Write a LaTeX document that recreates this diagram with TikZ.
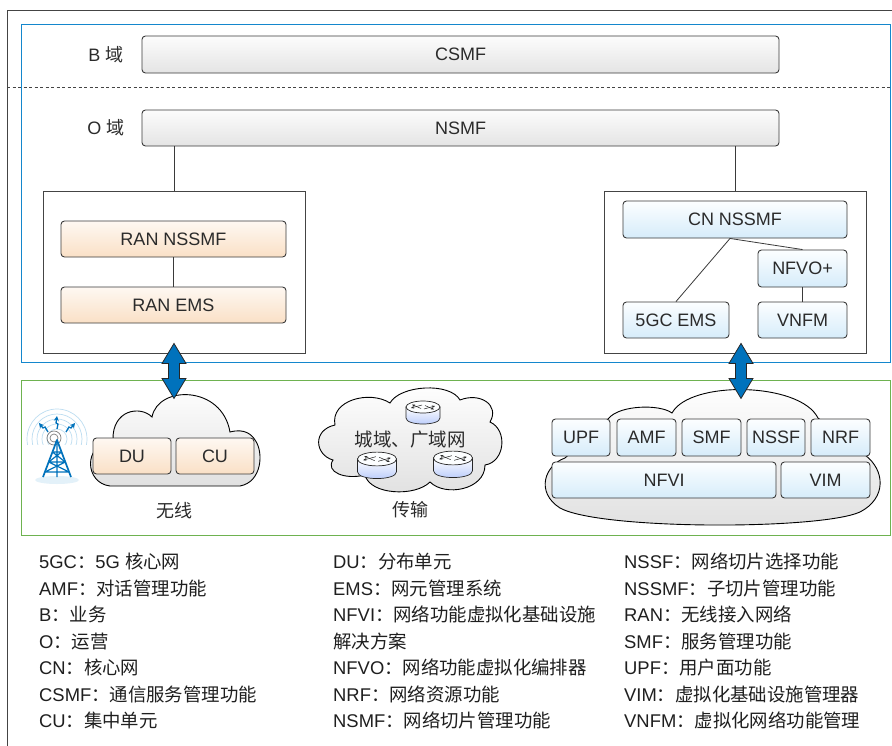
\documentclass[tikz,border=0pt]{standalone}
\usepackage{fontspec}
\setmainfont{Liberation Sans}
\newfontfamily\zhfont{Noto Sans CJK SC}
\newcommand{\zh}[1]{{\zhfont #1}}
\usetikzlibrary{arrows.meta,calc}
\definecolor{frameC}{HTML}{444444}
\definecolor{blueC}{RGB}{20,135,205}
\definecolor{greenC}{RGB}{110,178,80}
\definecolor{txtC}{HTML}{2B2B2B}
\definecolor{lineC}{HTML}{3A3A3A}
\definecolor{arrowC}{RGB}{0,114,188}
\definecolor{orTop}{RGB}{254,248,242}
\definecolor{orBot}{RGB}{250,224,198}
\definecolor{blTop}{RGB}{252,254,255}
\definecolor{blBot}{RGB}{214,236,250}
\definecolor{grTop}{RGB}{252,252,252}
\definecolor{grBot}{RGB}{228,228,228}
\tikzset{
 towerpic/.pic={
  \fill[blueC!12] (0,40) ellipse [x radius=22, y radius=4];
  \begin{scope}
   \clip (-35,-35) rectangle (35,4);
   \foreach \r in {10,15,20,25,30}
     \draw[blueC!28, line width=0.7pt] (0,-1) circle [radius=\r];
  \end{scope}
  \draw[gray, line width=0.7pt] (-3,-2) circle [radius=4] (-3,-2) circle [radius=7];
  \draw[arrowC, line width=1.7pt, line join=round] (-14,37) -- (0,0) -- (14,37);
  \draw[arrowC, line width=1.2pt] (0,0) -- (0,37)
    (-4.5,12) -- (4.5,12) (-8.3,22) -- (8.3,22) (-12.1,32) -- (12.1,32)
    (-4.5,12) -- (8.3,22) (4.5,12) -- (-8.3,22)
    (-8.3,22) -- (12.1,32) (8.3,22) -- (-12.1,32);
  \draw[arrowC, line width=1.3pt, -{Stealth[length=5pt,width=5pt]}]
    (0,-11) -- (1,-16) -- (-1,-17) -- (0,-24);
  \draw[arrowC, line width=1.3pt, -{Stealth[length=5pt,width=5pt]}]
    (-9,-8) -- (-12,-13) -- (-14,-12) -- (-18,-17);
  \draw[arrowC, line width=1.3pt, -{Stealth[length=5pt,width=5pt]}]
    (9,-8) -- (12,-13) -- (14,-12) -- (18,-17);
 },
 routerpic/.pic={
  \path[top color=white, bottom color=blBot!85!blue, draw=black!85, line width=0.7pt]
    (-17,0) -- (-17,11) .. controls (-17,19) and (17,19) .. (17,11) -- (17,0) -- cycle;
  \draw[black!85, line width=0.7pt, fill=blTop] (0,0) ellipse [x radius=17, y radius=6];
  \draw[black!85, line width=0.5pt, -{Stealth[length=3pt,width=2.5pt]}] (-1,-2) -- (-12,1);
  \draw[black!85, line width=0.5pt, -{Stealth[length=3pt,width=2.5pt]}] (1,2) -- (12,-1);
  \draw[black!85, line width=0.5pt, -{Stealth[length=3pt,width=2.5pt]}] (-2,1.5) -- (-11,-2.5);
  \draw[black!85, line width=0.5pt, -{Stealth[length=3pt,width=2.5pt]}] (2,-1.5) -- (11,2.5);
 },
 dblarrow/.pic={
  \filldraw[fill=arrowC, draw=black!85, line width=0.8pt, line join=miter]
   (0,0) -- (12,20) -- (5.5,20) -- (5.5,35) -- (12,35) -- (0,55) -- (-12,35)
   -- (-5.5,35) -- (-5.5,20) -- (-12,20) -- cycle;
 }
}
\begin{document}
\begin{tikzpicture}[x=1pt,y=-1pt,
 every node/.style={text=txtC},
 boxbase/.style={draw=lineC, line width=0.9pt, rounded corners=3.5pt, inner sep=0pt, font=\fontsize{18}{20}\selectfont},
 greybox/.style={boxbase, top color=grTop, bottom color=grBot},
 orbox/.style={boxbase, top color=orTop, bottom color=orBot},
 blbox/.style={boxbase, top color=blTop, bottom color=blBot},
 holder/.style={draw=frameC, line width=0.9pt, fill=white, inner sep=0pt},
 conn/.style={draw=lineC, line width=0.8pt},
 cloudC/.style={draw=black, line width=0.9pt, top color=white, bottom color=black!12},
 legend/.style={anchor=west, font=\fontsize{18.4}{20}\selectfont, inner sep=0pt, text height=13pt, text depth=4pt, text=black!88},
 lbl/.style={font=\fontsize{18}{20}\selectfont, inner sep=0pt},
]
\useasboundingbox (0,0) rectangle (892,745);
\clip (0,0) rectangle (892,745);
\fill[white] (0,0) rectangle (892,745);

% frames
\draw[frameC, line width=1pt] (7,10) rectangle (905,760);
\draw[blueC, line width=1pt] (21,24) rectangle (890,362);
\draw[greenC, line width=1pt] (21,380) rectangle (890,535);
\draw[frameC, line width=0.8pt, dash pattern=on 3pt off 2.5pt] (7,87) -- (892,87);

% domain labels and top boxes
\node[lbl] (bdom) at (106,55) {B \zh{域}};
\node[lbl] (odom) at (106,128) {O \zh{域}};
\node[greybox, minimum width=637pt, minimum height=37pt] (csmf) at (460.5,54.5) {CSMF};
\node[greybox, minimum width=637pt, minimum height=36pt] (nsmf) at (460.5,128) {NSMF};

% containers
\node[holder, minimum width=262pt, minimum height=162pt] (rancont) at (174,272) {};
\node[holder, minimum width=262pt, minimum height=162pt] (cncont) at (735,272) {};
\draw[conn] (rancont.north) -- (rancont.north |- nsmf.south);
\draw[conn] (cncont.north) -- (cncont.north |- nsmf.south);

% RAN side
\node[orbox, minimum width=225pt, minimum height=36pt] (ransm) at (173.5,239) {RAN NSSMF};
\node[orbox, minimum width=225pt, minimum height=36pt] (ranems) at (173.5,305) {RAN EMS};
\draw[conn] (ransm) -- (ranems);

% CN side
\node[blbox, minimum width=224pt, minimum height=37pt] (cnnssmf) at (735,219.5) {CN NSSMF};
\node[blbox, minimum width=89pt, minimum height=37pt] (nfvo) at (802.5,268.5) {NFVO+};
\node[blbox, minimum width=106pt, minimum height=36pt] (gcems) at (676,320) {5GC EMS};
\node[blbox, minimum width=89pt, minimum height=36pt] (vnfm) at (802.5,320) {VNFM};
\coordinate (cnjoin) at ($(cnnssmf.south)+(-5,0)$);
\draw[conn] (cnjoin) -- (gcems.north);
\draw[conn] (cnjoin) -- (nfvo.north);
\draw[conn] (nfvo) -- (vnfm);

% wireless cloud
\path[cloudC] (113,440) .. controls (112,410) and (140,405) .. (152,417)
  .. controls (158,385) and (222,385) .. (230,432)
  .. controls (245,428) and (252,435) .. (255,440)
  .. controls (264,452) and (262,482) .. (240,486) -- (110,486)
  .. controls (85,483) and (82,445) .. (113,440) -- cycle;
\node[orbox, minimum width=78pt, minimum height=36pt] (du) at (132,456) {DU};
\node[orbox, minimum width=78pt, minimum height=36pt] (cu) at (215,456) {CU};
\node[lbl] (wx) at (174,511) {\zh{无线}};
\pic at (57,440) {towerpic};

% transport cloud
\path[cloudC] (333,460) .. controls (315,455) and (312,430) .. (335,425)
  .. controls (330,400) and (370,390) .. (390,403)
  .. controls (400,385) and (450,382) .. (460,400)
  .. controls (480,392) and (500,405) .. (490,422)
  .. controls (508,430) and (505,462) .. (485,465)
  .. controls (485,490) and (445,497) .. (430,482)
  .. controls (415,497) and (370,495) .. (365,475)
  .. controls (345,480) and (325,472) .. (333,460) -- cycle;
\pic at (423,407) {routerpic};
\pic[scale=1.15] at (377,459) {routerpic};
\pic[scale=1.15] at (453,458) {routerpic};
\node[font=\fontsize{18.5}{20}\selectfont, inner sep=0pt] (metro) at (410,440) {\zh{城域、广域网}};
\node[lbl] (trans) at (410,510) {\zh{传输}};

% core cloud
\path[cloudC] (565,458) .. controls (545,465) and (535,492) .. (560,508)
  .. controls (600,530) and (820,530) .. (860,512)
  .. controls (887,498) and (885,470) .. (865,455) -- (818,418)
  .. controls (800,382) and (690,380) .. (672,413)
  .. controls (660,404) and (620,405) .. (609,418) -- cycle;
\node[blbox, minimum width=58pt, minimum height=37pt] (upf) at (581,437.5) {UPF};
\node[blbox, minimum width=59pt, minimum height=37pt] (amf) at (646.5,437.5) {AMF};
\node[blbox, minimum width=59pt, minimum height=37pt] (smf) at (711.5,437.5) {SMF};
\node[blbox, minimum width=58pt, minimum height=37pt] (nssf) at (776,437.5) {NSSF};
\node[blbox, minimum width=59pt, minimum height=37pt] (nrf) at (840.5,437.5) {NRF};
\node[blbox, minimum width=224pt, minimum height=36pt] (nfvi) at (664,480) {NFVI};
\node[blbox, minimum width=89pt, minimum height=36pt] (vim) at (825.5,480) {VIM};

% double arrows
\pic at ($(rancont.south)+(0,-10)$) {dblarrow};
\pic at ($(cncont.south)+(6,-10)$) {dblarrow};

% legend
\foreach \t [count=\i] in {5GC\zh{：}5G \zh{核心网}, AMF\zh{：对话管理功能}, B\zh{：业务}, O\zh{：运营}, CN\zh{：核心网}, CSMF\zh{：通信服务管理功能}, CU\zh{：集中单元}}
  \node[legend] (la\i) at (39,{564+26.5*(\i-1)}) {\t};
\foreach \t [count=\i] in {DU\zh{：分布单元}, EMS\zh{：网元管理系统}, NFVI\zh{：网络功能虚拟化基础设施}, \zh{解决方案}, NFVO\zh{：网络功能虚拟化编排器}, NRF\zh{：网络资源功能}, NSMF\zh{：网络切片管理功能}}
  \node[legend] (lb\i) at (333,{564+26.5*(\i-1)}) {\t};
\foreach \t [count=\i] in {NSSF\zh{：网络切片选择功能}, NSSMF\zh{：子切片管理功能}, RAN\zh{：无线接入网络}, SMF\zh{：服务管理功能}, UPF\zh{：用户面功能}, VIM\zh{：虚拟化基础设施管理器}, VNFM\zh{：虚拟化网络功能管理}}
  \node[legend] (lc\i) at (624,{564+26.5*(\i-1)}) {\t};
\end{tikzpicture}
\end{document}
